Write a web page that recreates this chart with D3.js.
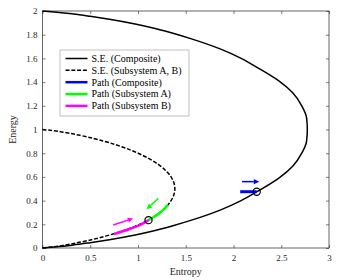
<!DOCTYPE html>
<html>
<head>
<meta charset="utf-8">
<script src="https://cdn.jsdelivr.net/npm/d3@7"></script>
<style>
  body { margin: 0; background: #fff; }
  svg { display: block; font-family: "Liberation Serif", "Times New Roman", serif; }
</style>
</head>
<body>
<div id="chart"></div>
<script>
// Axis ticks
const xTicks = [0, 0.5, 1, 1.5, 2, 2.5, 3];
const yTicks = [0, 0.2, 0.4, 0.6, 0.8, 1, 1.2, 1.4, 1.6, 1.8, 2];

// S.E. curve of the composite (entropy vs energy)
const compositeE = [0, 0.01, 0.025, 0.045, 0.07, 0.11, 0.15, 0.19, 0.235, 0.32, 0.40, 0.475, 0.59, 0.69, 0.80, 0.90, 1.0,
                    1.10, 1.20, 1.31, 1.41, 1.525, 1.60, 1.68, 1.765, 1.81, 1.85, 1.89, 1.93, 1.955, 1.975, 1.99, 2.0];
const compositeS = [0, 0.15, 0.32, 0.50, 0.70, 0.97, 1.19, 1.375, 1.56, 1.86, 2.08, 2.245, 2.475, 2.62, 2.715, 2.765, 2.773,
                    2.765, 2.715, 2.62, 2.475, 2.245, 2.08, 1.86, 1.56, 1.375, 1.19, 0.97, 0.70, 0.50, 0.32, 0.15, 0];

// S.E. curve of subsystem A, B
const subsystemE = [0, 0.01, 0.025, 0.05, 0.1, 0.15, 0.2, 0.25, 0.3, 0.35, 0.4, 0.45, 0.5,
                    0.55, 0.6, 0.65, 0.7, 0.75, 0.8, 0.85, 0.9, 0.95, 0.975, 0.99, 1];
const subsystemS = [0, 0.112, 0.234, 0.40, 0.66, 0.86, 1.02, 1.14, 1.235, 1.30, 1.346, 1.376, 1.386,
                    1.376, 1.346, 1.295, 1.222, 1.125, 1.001, 0.845, 0.650, 0.397, 0.234, 0.112, 0];

// Paths
const pathCompositeS = [2.07, 2.243];
const pathCompositeE = [0.475, 0.475];
const pathAS = [1.11, 1.16, 1.215, 1.262, 1.293, 1.317];
const pathAE = [0.235, 0.26, 0.29, 0.32, 0.345, 0.365];
const pathBS = [0.75, 0.85, 0.945, 1.03, 1.11];
const pathBE = [0.118, 0.143, 0.17, 0.198, 0.235];

// Marked states (circles)
const markS = [2.243, 1.11];
const markE = [0.475, 0.235];

// Direction arrows [S1, E1, S2, E2]
const arrowBlue = [2.09, 0.56, 2.27, 0.56];
const arrowGreen = [1.213, 0.419, 1.09, 0.327];
const arrowMagenta = [0.74, 0.194, 0.95, 0.25];

const legendLabels = ["S.E. (Composite)", "S.E. (Subsystem A, B)", "Path (Composite)", "Path (Subsystem A)", "Path (Subsystem B)"];

const W = 344, H = 280;
const margin = { top: 11, right: 15, bottom: 32, left: 42.5 };
const width = W - margin.left - margin.right;
const height = H - margin.top - margin.bottom;

const svg = d3.select("#chart").append("svg")
    .attr("width", W)
    .attr("height", H);

const g = svg.append("g")
    .attr("transform", `translate(${margin.left},${margin.top})`);

const x = d3.scaleLinear().domain([0, 3]).range([0, width]);
const y = d3.scaleLinear().domain([0, 2]).range([height, 0]);

// axes, MATLAB style ticks pointing inward
const fmt = d => String(d);
const xAxis = g.append("g").attr("transform", `translate(0,${height})`)
    .call(d3.axisBottom(x).tickValues(xTicks).tickFormat(fmt).tickSizeInner(-3).tickSizeOuter(0).tickPadding(7));
const yAxis = g.append("g")
    .call(d3.axisLeft(y).tickValues(yTicks).tickFormat(fmt).tickSizeInner(-3).tickSizeOuter(0).tickPadding(5));
const xTop = g.append("g")
    .call(d3.axisTop(x).tickValues(xTicks).tickFormat("").tickSizeInner(-3).tickSizeOuter(0));
const yRight = g.append("g").attr("transform", `translate(${width},0)`)
    .call(d3.axisRight(y).tickValues(yTicks).tickFormat("").tickSizeInner(-3).tickSizeOuter(0));

[xAxis, yAxis, xTop, yRight].forEach(a => {
    a.select(".domain").remove();
    a.selectAll("line").attr("stroke", "#262626").attr("stroke-width", 0.6);
    a.selectAll("text").attr("fill", "#262626").style("font-size", "9px")
        .style("font-family", "'Liberation Serif', 'Times New Roman', serif");
});

g.append("rect")
    .attr("width", width)
    .attr("height", height)
    .attr("fill", "none")
    .attr("stroke", "#262626")
    .attr("stroke-width", 0.7);

// energy is monotone along every series, so a monotone-in-y curve keeps them smooth
const line = d3.line()
    .x(d => x(d[0]))
    .y(d => y(d[1]))
    .curve(d3.curveMonotoneY);

const zip = (a, b) => a.map((v, i) => [v, b[i]]);

// S.E. curves
g.append("path")
    .attr("d", line(zip(compositeS, compositeE)))
    .attr("fill", "none")
    .attr("stroke", "#000")
    .attr("stroke-width", 1.5);

g.append("path")
    .attr("d", line(zip(subsystemS, subsystemE)))
    .attr("fill", "none")
    .attr("stroke", "#000")
    .attr("stroke-width", 1.5)
    .attr("stroke-dasharray", "4,1.8");

// paths
g.append("path")
    .attr("d", d3.line().x(d => x(d[0])).y(d => y(d[1]))(zip(pathCompositeS, pathCompositeE)))
    .attr("fill", "none").attr("stroke", "#0000ff").attr("stroke-width", 3);
g.append("path")
    .attr("d", line(zip(pathAS, pathAE)))
    .attr("fill", "none").attr("stroke", "#00ff00").attr("stroke-width", 2.5);
g.append("path")
    .attr("d", line(zip(pathBS, pathBE)))
    .attr("fill", "none").attr("stroke", "#ff00ff").attr("stroke-width", 2.5);

// circles
g.selectAll(".mark")
    .data(zip(markS, markE))
    .enter()
    .append("circle")
    .attr("class", "mark")
    .attr("cx", d => x(d[0]))
    .attr("cy", d => y(d[1]))
    .attr("r", 3.6)
    .attr("fill", "none")
    .attr("stroke", "#000")
    .attr("stroke-width", 1.2);

// arrows
function drawArrow(a, color) {
    const x1 = x(a[0]), y1 = y(a[1]), x2 = x(a[2]), y2 = y(a[3]);
    const ang = Math.atan2(y2 - y1, x2 - x1);
    const hl = 5.5, hw = 2.6;
    const bx = x2 - hl * Math.cos(ang), by = y2 - hl * Math.sin(ang);
    g.append("line")
        .attr("x1", x1).attr("y1", y1).attr("x2", bx).attr("y2", by)
        .attr("stroke", color).attr("stroke-width", 1.5);
    const px = -Math.sin(ang) * hw, py = Math.cos(ang) * hw;
    g.append("path")
        .attr("d", `M${x2},${y2}L${bx + px},${by + py}L${bx - px},${by - py}Z`)
        .attr("fill", color);
}
drawArrow(arrowBlue, "#0000ff");
drawArrow(arrowGreen, "#00ff00");
drawArrow(arrowMagenta, "#ff00ff");

// axis labels
svg.append("text")
    .attr("x", margin.left + width / 2)
    .attr("y", 275)
    .attr("text-anchor", "middle")
    .style("font-size", "10px")
    .attr("fill", "#262626")
    .text("Entropy");

svg.append("text")
    .attr("transform", `translate(16,${margin.top + height / 2}) rotate(-90)`)
    .attr("text-anchor", "middle")
    .style("font-size", "10px")
    .attr("fill", "#262626")
    .text("Energy");

// legend
const legendStyles = [
    { color: "#000", width: 1.5, dash: null },
    { color: "#000", width: 1.5, dash: "4,1.8" },
    { color: "#0000ff", width: 2.5, dash: null },
    { color: "#00ff00", width: 2.5, dash: null },
    { color: "#ff00ff", width: 2.5, dash: null }
];
const legend = svg.append("g");
legend.append("rect")
    .attr("x", 60).attr("y", 50)
    .attr("width", 129).attr("height", 66)
    .attr("fill", "#fff")
    .attr("stroke", "#a6a6a6")
    .attr("stroke-width", 0.7);

legendLabels.forEach((lab, i) => {
    const ly = 58.5 + i * 11.85;
    const s = legendStyles[i];
    legend.append("line")
        .attr("x1", 65.5).attr("x2", 87.5)
        .attr("y1", ly).attr("y2", ly)
        .attr("stroke", s.color)
        .attr("stroke-width", s.width)
        .attr("stroke-dasharray", s.dash);
    legend.append("text")
        .attr("x", 91.5).attr("y", ly)
        .attr("dy", "0.33em")
        .style("font-size", "10px")
        .attr("fill", "#000")
        .text(lab);
});
</script>
</body>
</html>
